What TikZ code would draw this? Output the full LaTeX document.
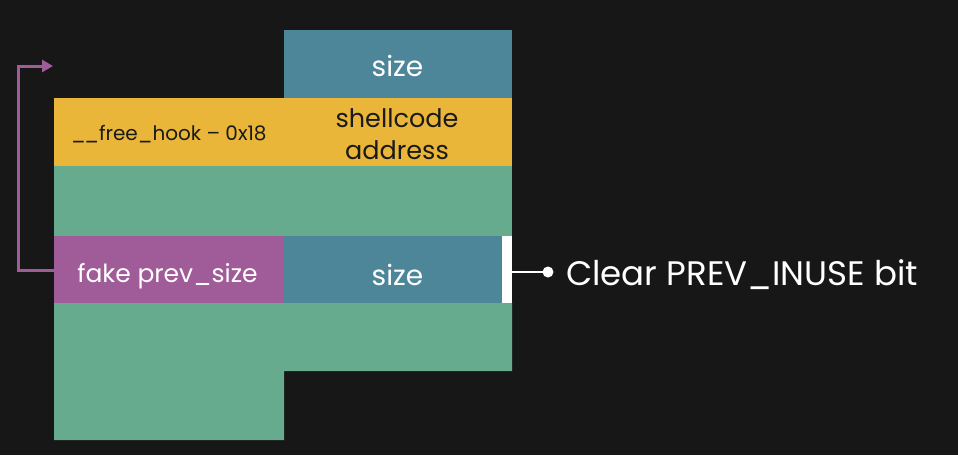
\documentclass[tikz,border=0pt]{standalone}
\usepackage{fontspec}
\setmainfont{Poppins}
\usetikzlibrary{arrows.meta}
\definecolor{bg}{HTML}{171717}
\definecolor{teal}{HTML}{4E8699}
\definecolor{ylw}{HTML}{EAB63A}
\definecolor{grn}{HTML}{67AB8E}
\definecolor{prp}{HTML}{A05C98}
\definecolor{dark}{HTML}{1A1A1A}
\begin{document}
\begin{tikzpicture}[x=1pt,y=-1pt,
  block/.style={inner sep=0pt,outer sep=0pt,anchor=north west},
  wtxt/.style={text=white,inner sep=0pt,anchor=base},
  dtxt/.style={text=dark,inner sep=0pt,anchor=base}]
\fill[bg] (0,0) rectangle (958,455);
\useasboundingbox (0,0) rectangle (958,455);
% blocks
\node[block,fill=teal,minimum width=228pt,minimum height=68pt] (topsize) at (284,30) {};
\node[block,fill=ylw,minimum width=458pt,minimum height=68pt] (yel) at (54,98) {};
\node[block,fill=grn,minimum width=458pt,minimum height=70pt] (g1) at (54,166) {};
\node[block,fill=prp,minimum width=230pt,minimum height=67pt] (fake) at (54,236) {};
\node[block,fill=teal,minimum width=218pt,minimum height=67pt] (size2) at (284,236) {};
\node[block,fill=white,minimum width=10pt,minimum height=67pt] (bar) at (502,236) {};
\fill[grn] (54,303) -- (512,303) -- (512,371) -- (284,371) -- (284,440) -- (54,440) -- cycle;
% texts
\node[wtxt,font=\fontsize{28}{32}\selectfont] (t1) at (397.5,76) {size};
\node[wtxt,font=\fontsize{28}{32}\selectfont] (t2) at (397.5,285) {size};
\node[wtxt,font=\fontsize{25}{30}\selectfont] (t3) at (167.5,282) {fake prev\_size};
\node[dtxt,font=\fontsize{25.5}{30}\selectfont] (t4) at (397,127) {shellcode};
\node[dtxt,font=\fontsize{25.5}{30}\selectfont] (t5) at (397,159) {address};
\node[dtxt,font=\fontsize{20}{24}\selectfont,anchor=base west] (t6) at (71,140) {\_\kern-1.5pt\_free\_hook – 0x18};
\node[wtxt,font=\fontsize{34}{40}\selectfont,anchor=base west] (t7) at (566,285) {Clear PREV\_INUSE bit};
% connector
\coordinate (dot) at (548,272);
\draw[white,line width=2pt] (bar.east |- dot) -- (dot);
\fill[white] (dot) circle (5.5pt);
% arrow
\coordinate (ar) at (53,66);
\draw[prp,line width=3pt,-{Triangle[length=11pt,width=12pt]}] (fake.west |- 0,270) -- (18,270) -- (18,66) -- (ar);
\end{tikzpicture}
\end{document}
